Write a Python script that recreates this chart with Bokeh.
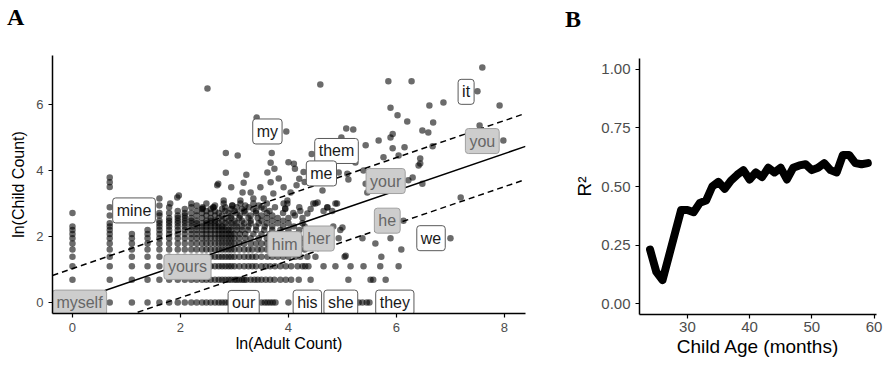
from bokeh.plotting import figure
from bokeh.layouts import row, column
from bokeh.models import ColumnDataSource, FixedTicker, NumeralTickFormatter, Range1d, Div
from bokeh.core.properties import value
from bokeh.embed import file_html
from bokeh.resources import INLINE

SANS = "Liberation Sans"
SERIF = "Liberation Serif"

# ---------------- Panel A data: ln(child count) rows and their ln(adult count) values ----------------
child_levels = [0.00, 0.69, 1.10, 1.39, 1.61, 1.79, 1.95, 2.08, 2.20, 2.30,
                2.40, 2.48, 2.56, 2.64, 2.71, 2.77, 2.83, 2.89, 2.94, 3.00]

r00 = [0.00, 0.69, 1.10, 1.39, 1.61, 1.79, 1.95, 2.08, 2.20, 2.30, 2.40, 2.48, 2.56, 2.64, 2.71, 2.77, 2.83, 2.89, 2.94, 3.00,
       3.04, 3.50, 3.56, 3.61, 3.66, 3.71, 3.76, 4.00, 5.30, 5.37, 5.45, 5.50]
r069 = [0.00, 0.69, 1.10, 1.39, 1.61, 1.79, 1.95, 2.08, 2.20, 2.30, 2.40, 2.48, 2.56, 2.64, 2.71, 2.77, 2.83, 2.89, 2.94, 3.00,
        3.04, 3.09, 3.14, 3.18, 3.22, 3.30, 3.37, 3.43, 3.50, 3.58, 3.66, 3.74, 3.85, 3.95, 4.05, 4.19, 4.41, 5.11, 5.52, 5.57, 5.80]
r110 = [0.00, 0.69, 1.10, 1.39, 1.61, 1.79, 1.95, 2.08, 2.20, 2.30, 2.40, 2.48, 2.56, 2.64, 2.71, 2.77, 2.83, 2.89, 2.94, 3.00,
        3.09, 3.18, 3.26, 3.33, 3.40, 3.50, 3.58, 3.66, 3.75, 3.85, 3.95, 4.05, 4.17, 4.26, 4.31, 4.37, 4.65, 4.87, 5.15, 5.39, 5.70, 6.04]
r139 = [0.00, 0.69, 1.10, 1.39, 1.61, 1.79, 1.95, 2.08, 2.20, 2.30, 2.40, 2.48, 2.56, 2.64, 2.71, 2.77, 2.83, 2.89, 2.94, 3.00,
        3.09, 3.18, 3.26, 3.33, 3.40, 3.50, 3.61, 3.70, 3.80, 3.90, 4.00, 4.13, 4.22, 4.35, 4.50, 5.04, 5.72]
r161 = [0.00, 0.69, 1.10, 1.39, 1.61, 1.79, 1.95, 2.08, 2.20, 2.30, 2.40, 2.48, 2.56, 2.64, 2.71, 2.77, 2.83, 2.89, 2.94, 3.00,
        3.09, 3.18, 3.26, 3.33, 3.43, 3.50, 3.60, 3.70, 3.85, 4.00, 4.15, 4.30, 6.09]
r179 = [0.00, 0.69, 1.10, 1.39, 1.61, 1.79, 1.95, 2.08, 2.20, 2.30, 2.40, 2.48, 2.56, 2.64, 2.71, 2.77, 2.83, 2.89, 2.94, 3.00,
        3.09, 3.18, 3.30, 3.40, 3.50, 3.60, 3.75, 3.90, 4.05, 4.25, 4.45, 5.61]
r195 = [0.00, 0.69, 1.10, 1.39, 1.61, 1.79, 1.95, 2.08, 2.20, 2.30, 2.40, 2.48, 2.56, 2.64, 2.71, 2.77, 2.83, 2.89, 2.94, 3.00,
        3.09, 3.20, 3.30, 3.45, 3.60, 3.75, 3.90, 4.10, 4.30, 4.93, 5.37, 5.89, 7.00]
r208 = [0.00, 0.69, 1.10, 1.39, 1.61, 1.79, 1.95, 2.08, 2.20, 2.30, 2.40, 2.48, 2.56, 2.64, 2.71, 2.77, 2.83, 2.89, 2.94, 3.00,
        3.10, 3.20, 3.35, 3.50, 3.65, 3.80, 3.95, 4.15, 4.40]
r220 = [0.00, 0.69, 1.39, 1.61, 1.79, 1.95, 2.08, 2.20, 2.30, 2.40, 2.48, 2.56, 2.64, 2.71, 2.77, 2.83, 2.89, 2.94,
        3.04, 3.14, 3.25, 3.40, 3.55, 3.70, 3.85, 4.00, 4.20, 4.96]
r230 = [0.00, 0.69, 1.61, 1.79, 1.95, 2.08, 2.20, 2.30, 2.40, 2.48, 2.56, 2.64, 2.71, 2.77, 2.83, 2.94,
        3.04, 3.14, 3.26, 3.40, 3.56, 3.70, 3.90, 4.10, 4.30, 4.83]
r240 = [0.69, 1.61, 1.79, 1.95, 2.08, 2.20, 2.30, 2.40, 2.48, 2.56, 2.64, 2.71, 2.83, 2.94,
        3.04, 3.18, 3.30, 3.45, 3.60, 3.80, 4.00, 4.26]
r248 = [1.61, 1.79, 1.95, 2.08, 2.20, 2.30, 2.48, 2.56, 2.64, 2.77, 2.89, 3.00, 3.14, 3.30, 3.50, 3.70, 3.90, 6.13]
r256 = [1.79, 1.95, 2.08, 2.20, 2.40, 2.56, 2.71, 2.83, 2.94, 3.09, 3.26, 3.43, 3.60, 3.80, 4.00, 4.26]
r264 = [0.69, 1.61, 1.95, 2.08, 2.30, 2.48, 2.64, 2.77, 2.94, 3.10, 3.30, 3.50, 3.70, 4.12]
r271 = [0.00, 1.61, 1.79, 2.08, 2.20, 2.40, 2.56, 2.71, 2.89, 3.04, 3.20, 3.40, 3.60, 3.90, 4.09]
r277 = [1.95, 2.30, 2.48, 2.64, 2.83, 3.00, 3.18, 3.40, 3.65, 4.22, 4.65, 4.81]
r283 = [2.08, 2.40, 2.56, 2.77, 2.94, 3.14, 3.35, 3.55, 3.94, 4.41]
r289 = [0.69, 1.79, 2.20, 2.41, 2.61, 2.83, 3.04, 3.26, 3.50, 3.75, 4.20, 4.72]
r294 = [1.61, 2.30, 2.64, 2.96, 3.20, 3.45]
r300 = [1.81, 2.20, 2.48, 2.80, 3.11, 3.35, 3.60, 3.91, 3.98, 4.46, 4.50, 4.87, 4.90]

adult_rows = [r00, r069, r110, r139, r161, r179, r195, r208, r220, r230,
              r240, r248, r256, r264, r271, r277, r283, r289, r294, r300]

# sparser words (higher counts)
extra_x = [2.50, 3.41, 3.96, 2.84, 3.06, 3.69, 2.84, 3.22, 3.67, 3.61,
           3.74, 4.00, 4.10, 4.59, 5.07, 5.20, 5.85, 6.28, 7.59, 7.50,
           6.61, 6.87, 7.91, 5.89, 6.02, 6.20, 6.68, 6.48, 6.59, 7.54,
           7.98, 5.67, 5.89, 5.93, 4.98, 6.67, 5.93, 6.15, 6.04, 5.76,
           6.44, 6.41, 6.44, 6.30, 6.48, 5.46, 7.19, 5.09, 5.39, 5.43,
           4.63, 5.43, 4.43, 5.24, 4.93, 5.11, 4.54, 4.72, 6.22, 5.00,
           2.70, 2.94, 3.17, 3.15, 3.30, 3.48, 3.35, 3.67, 3.82, 3.91,
           4.04, 1.94, 1.97, 2.41, 2.61, 2.80, 2.96, 3.11, 3.54, 3.72,
           3.98, 3.94, 1.61, 2.68, 4.15, 4.20, 4.28, 4.12, 4.30, 4.35,
           5.06, 0.69, 0.69, 0.69]
extra_y = [6.48, 5.60, 5.18, 4.53, 4.45, 4.53, 3.93, 3.87, 4.23, 3.94,
           4.05, 4.25, 4.20, 6.60, 5.27, 5.24, 6.70, 6.70, 7.12, 6.40,
           5.97, 6.06, 5.97, 5.90, 5.67, 5.48, 5.45, 5.21, 5.15, 5.36,
           4.91, 4.91, 5.00, 5.10, 5.00, 4.73, 4.67, 4.70, 4.45, 4.40,
           4.36, 4.15, 4.21, 3.79, 3.60, 3.33, 3.18, 3.90, 4.00, 3.60,
           3.39, 4.76, 4.50, 4.24, 3.94, 3.73, 3.03, 2.88, 3.70, 2.27,
           3.60, 3.49, 3.63, 3.33, 3.33, 3.49, 3.15, 3.64, 3.76, 3.49,
           3.33, 3.18, 3.24, 2.85, 2.88, 3.09, 2.94, 3.09, 3.15, 3.30,
           3.09, 2.85, 3.15, 3.55, 3.55, 3.75, 3.95, 4.05, 3.65, 2.70,
           1.42, 3.79, 3.64, 3.50]

# regression fit and +/- band
fit_intercept = 0.03
fit_slope = 0.56
band_offset = 1.0

# labelled pronouns
white_words = ["my", "it", "them", "me", "we", "mine", "our", "his", "she", "they"]
white_x = [3.61, 7.29, 4.89, 4.61, 6.64, 1.14, 3.17, 4.35, 4.97, 5.97]
white_y = [5.18, 6.38, 4.59, 3.91, 1.95, 2.79, -0.01, 0.00, 0.00, 0.00]
gray_words = ["your", "you", "he", "her", "him", "yours", "myself"]
gray_x = [5.80, 7.59, 5.83, 4.56, 3.93, 2.13, 0.13]
gray_y = [3.68, 4.89, 2.48, 1.94, 1.77, 1.08, 0.00]

x_ticks_a = [0, 2, 4, 6, 8]
y_ticks_a = [0, 2, 4, 6]
xlim_a = (-0.37, 8.39)
ylim_a = (-0.33, 7.48)

# ---------------- Panel B data ----------------
ages = [24, 25, 26, 27, 28, 29, 30, 31, 32, 33, 34, 35, 36, 37, 38, 39, 40, 41,
        42, 43, 44, 45, 46, 47, 48, 49, 50, 51, 52, 53, 54, 55, 56, 57, 58, 59]
r_squared = [0.23, 0.135, 0.10, 0.20, 0.30, 0.40, 0.40, 0.39, 0.43, 0.44, 0.50, 0.52,
             0.49, 0.525, 0.55, 0.57, 0.53, 0.56, 0.54, 0.58, 0.56, 0.58, 0.53, 0.58,
             0.59, 0.595, 0.57, 0.58, 0.60, 0.57, 0.56, 0.635, 0.635, 0.60, 0.595, 0.60]
x_ticks_b = [30, 40, 50, 60]
y_ticks_b = [0.0, 0.25, 0.5, 0.75, 1.0]
xlim_b = (22.3, 60.4)
ylim_b = (-0.047, 1.047)

LETTER_H = 30


def style_axes(p, tick_size, title_size):
    for ax in (p.xaxis[0], p.yaxis[0]):
        ax.axis_line_color = "black"
        ax.axis_line_width = 1.5
        ax.major_tick_line_color = "black"
        ax.major_tick_line_width = 1.2
        ax.major_tick_out = 4
        ax.major_tick_in = 0
        ax.minor_tick_line_color = None
        ax.major_label_text_font = SANS
        ax.major_label_text_font_size = tick_size
        ax.major_label_text_color = "#4d4d4d"
        ax.axis_label_text_font = SANS
        ax.axis_label_text_font_size = title_size
        ax.axis_label_text_font_style = "normal"
        ax.axis_label_text_color = "black"
        ax.major_label_standoff = 4
        ax.axis_label_standoff = 3
    p.xgrid.grid_line_color = None
    p.ygrid.grid_line_color = None
    p.outline_line_color = None


def letter_div(letter, width, pad_left, pad_top):
    return Div(text=letter, width=width, height=LETTER_H, margin=0,
               styles={"font-family": SERIF, "font-weight": "bold", "font-size": "24px",
                       "line-height": "27px", "color": "black",
                       "padding-left": f"{pad_left}px", "padding-top": f"{pad_top}px",
                       "box-sizing": "border-box"})


# ---------------- Panel A ----------------
pa = figure(frame_width=473, frame_height=258,
            min_border_left=52, min_border_right=30, min_border_top=55 - LETTER_H, min_border_bottom=49,
            x_range=Range1d(*xlim_a), y_range=Range1d(*ylim_a),
            output_backend="svg", toolbar_location=None)
pa.xaxis.ticker = FixedTicker(ticks=x_ticks_a)
pa.yaxis.ticker = FixedTicker(ticks=y_ticks_a)
pa.xaxis.axis_label = "ln(Adult Count)"
pa.yaxis.axis_label = "ln(Child Count)"
style_axes(pa, "13px", "16px")
pa.yaxis.axis_label_standoff = 6
pa.yaxis.major_label_standoff = 5
pa.xaxis.major_label_standoff = 5
pa.xaxis.axis_label_standoff = 0

pts_x = []
pts_y = []
for lvl, xs in zip(child_levels, adult_rows):
    pts_x.extend(xs)
    pts_y.extend([lvl] * len(xs))
pts_x.extend(extra_x)
pts_y.extend(extra_y)
pa.scatter(pts_x, pts_y, size=6.5, fill_color="black", fill_alpha=0.58, line_color=None)

line_x = [xlim_a[0], xlim_a[1]]
fit_y = [fit_intercept + fit_slope * v for v in line_x]
pa.line(line_x, fit_y, line_color="black", line_width=1.5)
pa.line(line_x, [v + band_offset for v in fit_y], line_color="black", line_width=1.5, line_dash="6 4")
pa.line(line_x, [v - band_offset for v in fit_y], line_color="black", line_width=1.5, line_dash="6 4")

src_w = ColumnDataSource(dict(x=white_x, y=white_y, t=white_words))
src_g = ColumnDataSource(dict(x=gray_x, y=gray_y, t=gray_words))
pa.text(x="x", y="y", text="t", source=src_w, text_font=value(SANS), text_font_size="16px",
        text_color="#1a1a1a", text_align="center", text_baseline="middle",
        background_fill_color="white", border_line_color="#5a5a5a", border_line_width=1,
        padding=4, border_radius=3)
pa.text(x="x", y="y", text="t", source=src_g, text_font=value(SANS), text_font_size="16px",
        text_color="#666666", text_align="center", text_baseline="middle",
        background_fill_color="#cdcdcd", border_line_color="#a0a0a0", border_line_width=1,
        padding=4, border_radius=3)

# ---------------- Panel B ----------------
pb = figure(frame_width=237, frame_height=256,
            min_border_left=84, min_border_right=9, min_border_top=58 - LETTER_H, min_border_bottom=48,
            x_range=Range1d(*xlim_b), y_range=Range1d(*ylim_b),
            output_backend="svg", toolbar_location=None)
pb.xaxis.ticker = FixedTicker(ticks=x_ticks_b)
pb.yaxis.ticker = FixedTicker(ticks=y_ticks_b)
pb.yaxis.formatter = NumeralTickFormatter(format="0.00")
pb.xaxis.axis_label = "Child Age (months)"
pb.yaxis.axis_label = "R²"
style_axes(pb, "15px", "19px")
pb.yaxis.major_label_standoff = 5
pb.xaxis.major_label_standoff = 3
pb.xaxis.axis_label_standoff = 1
pb.line(ages, r_squared, line_color="black", line_width=8, line_join="round", line_cap="round")

div_a = letter_div("A", 555, 7, 4)
div_b = letter_div("B", 330, 10, 6)

layout = row(column(div_a, pa, spacing=0), column(div_b, pb, spacing=0), spacing=0)
open("out.html", "w").write(file_html(layout, INLINE))
